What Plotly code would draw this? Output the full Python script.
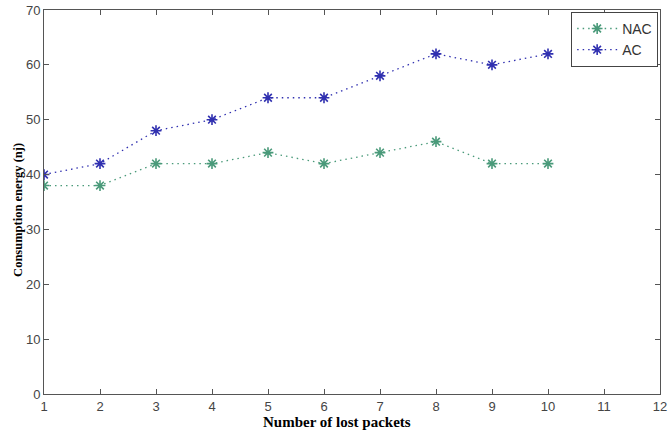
import plotly.graph_objects as go

packets = [1, 2, 3, 4, 5, 6, 7, 8, 9, 10]
nac = [38, 38, 42, 42, 44, 42, 44, 46, 42, 42]
ac = [40, 42, 48, 50, 54, 54, 58, 62, 60, 62]

fig = go.Figure()
fig.add_trace(go.Scatter(x=packets, y=nac, name="NAC", mode="lines+markers",
                         line=dict(color="#4a9a7a", width=1.3, dash="1.5px,4px"),
                         marker=dict(symbol="asterisk-open", size=9,
                                     line=dict(color="#2f8a66", width=1.6))))
fig.add_trace(go.Scatter(x=packets, y=ac, name="AC", mode="lines+markers",
                         line=dict(color="#3030b0", width=1.3, dash="1.5px,4px"),
                         marker=dict(symbol="asterisk-open", size=9,
                                     line=dict(color="#1010c0", width=1.6))))

axis_common = dict(showgrid=False, zeroline=False, showline=True, linecolor="#555555",
                   linewidth=1, mirror="ticks", ticks="inside", ticklen=5, automargin=False,
                   ticklabeloverflow="allow",
                   tickcolor="#555555", tickfont=dict(family="Liberation Sans", size=13, color="#444444"))

fig.update_layout(
    width=669, height=432,
    margin=dict(l=44, r=9, t=10, b=38),
    paper_bgcolor="white", plot_bgcolor="white",
    xaxis=dict(range=[1, 12], dtick=1, tick0=1, **axis_common),
    yaxis=dict(range=[0, 70], dtick=10, **axis_common),
    legend=dict(x=0.997, y=0.995, xanchor="right", yanchor="top",
                bgcolor="white", bordercolor="#444444", borderwidth=1,
                font=dict(family="Liberation Sans", size=14, color="#333333"),
                itemwidth=40, tracegroupgap=0),
    showlegend=True,
    annotations=[
        dict(text="<b>Number of lost packets</b>", xref="paper", yref="paper",
             x=0.476, y=-0.072, xanchor="center", yanchor="middle", showarrow=False,
             font=dict(family="Liberation Serif", size=15, color="black")),
        dict(text="<b>Consumption energy (nj)</b>", xref="paper", yref="paper",
             x=-0.0435, y=0.48, xanchor="center", yanchor="middle", showarrow=False,
             textangle=-90,
             font=dict(family="Liberation Serif", size=12.5, color="black")),
    ],
)

fig.write_html("out.html")
